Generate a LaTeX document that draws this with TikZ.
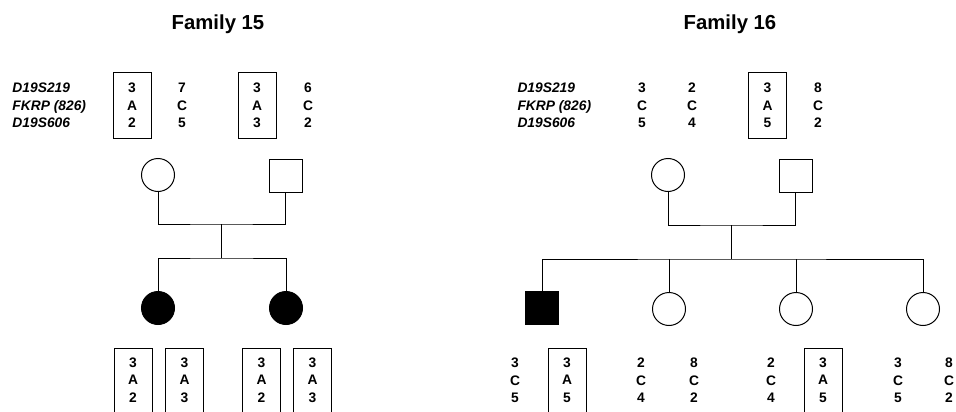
\documentclass[tikz,border=0pt]{standalone}
\usepackage{fontspec}
\setmainfont{Liberation Sans}
\usetikzlibrary{shapes}

\begin{document}
\begin{tikzpicture}[x=1pt, y=-1pt, line width=1pt,
  hap/.style={align=center, inner sep=0pt, font=\fontsize{13.8}{17.5}\selectfont\bfseries},
  hapbox/.style={hap, draw, minimum width=38pt, minimum height=66pt},
  female/.style={draw, circle, minimum size=33pt, inner sep=0pt},
  male/.style={draw, rectangle, minimum size=33pt, inner sep=0pt},
  affected/.style={fill=black}]
\useasboundingbox (0,0) rectangle (956,412);

% Family 15
\node[font=\fontsize{20.3}{23}\selectfont\bfseries] at (218,24) (t15) {Family 15};
\node[hap, align=left, anchor=west, font=\fontsize{13.8}{17.5}\selectfont\bfseries\itshape] at (12,105.5) (loc15) {D19S219\\FKRP (826)\\D19S606};

\node[hapbox] at (132,105.5) (h15a) {3\\A\\2};
\node[hap] at (182,105.5) (h15b) {7\\C\\5};
\node[hapbox] at (257,105.5) (h15c) {3\\A\\3};
\node[hap] at (308,105.5) (h15d) {6\\C\\2};

\node[female] at (158,175) (m15) {};
\node[male] at (285.5,175.5) (f15) {};
\coordinate (mar15) at (221,224);
\coordinate (sib15) at (221,258);
\draw (m15.south) |- (mar15) -| (f15.south);
\draw (mar15) -- (sib15);

\node[female, affected] at (158,308) (c15a) {};
\node[female, affected] at (286,308) (c15b) {};
\draw (c15a.north) |- (sib15) -| (c15b.north);

\node[hapbox, minimum height=64pt] at (133,380) (b15a) {3\\A\\2};
\node[hapbox, minimum height=64pt] at (184.5,380) (b15b) {3\\A\\3};
\node[hapbox, minimum height=64pt] at (261.5,380) (b15c) {3\\A\\2};
\node[hapbox, minimum height=64pt] at (312.5,380) (b15d) {3\\A\\3};

% Family 16
\node[font=\fontsize{20.3}{23}\selectfont\bfseries] at (730,24) (t16) {Family 16};
\node[hap, align=left, anchor=west, font=\fontsize{13.8}{17.5}\selectfont\bfseries\itshape] at (517,105.5) (loc16) {D19S219\\FKRP (826)\\D19S606};

\node[hap] at (642,105.5) (h16a) {3\\C\\5};
\node[hap] at (692,105.5) (h16b) {2\\C\\4};
\node[hapbox] at (767.5,105.5) (h16c) {3\\A\\5};
\node[hap] at (818,105.5) (h16d) {8\\C\\2};

\node[female] at (668,175) (m16) {};
\node[male] at (795.5,175.5) (f16) {};
\coordinate (mar16) at (731,225);
\coordinate (sib16) at (731,259);
\draw (m16.south) |- (mar16) -| (f16.south);
\draw (mar16) -- (sib16);

\node[male, affected] at (542,307.5) (c16a) {};
\node[female] at (669,309) (c16b) {};
\node[female] at (796,309) (c16c) {};
\node[female] at (923,309) (c16d) {};
\draw (c16a.north) |- (sib16) -| (c16d.north);
\draw (c16b.north) -- (c16b.north |- sib16);
\draw (c16c.north) -- (c16c.north |- sib16);

\node[hap] at (515,380.5) (b16a) {3\\C\\5};
\node[hapbox, minimum height=64pt] at (567,380) (b16b) {3\\A\\5};
\node[hap] at (641,380.5) (b16c) {2\\C\\4};
\node[hap] at (694,380.5) (b16d) {8\\C\\2};
\node[hap] at (771,380.5) (b16e) {2\\C\\4};
\node[hapbox, minimum height=64pt] at (823,380) (b16f) {3\\A\\5};
\node[hap] at (898,380.5) (b16g) {3\\C\\5};
\node[hap] at (949,380.5) (b16h) {8\\C\\2};
\end{tikzpicture}
\end{document}
